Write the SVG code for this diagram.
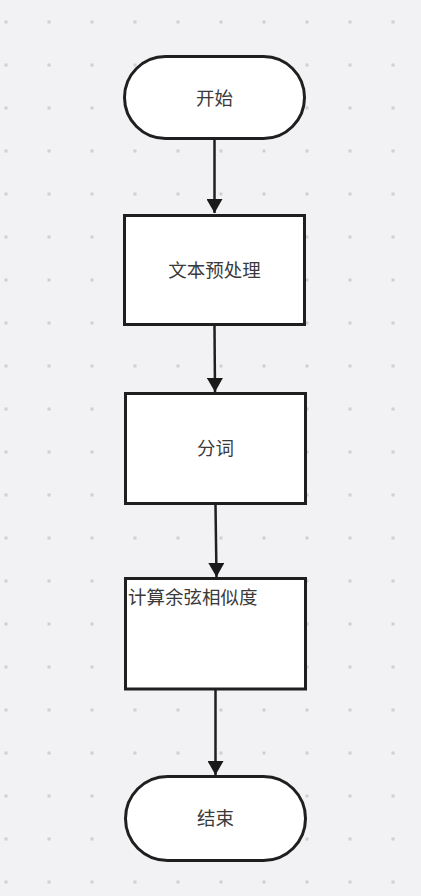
<svg xmlns="http://www.w3.org/2000/svg" width="421" height="896" viewBox="0 0 421 896">
  <defs>
    <pattern id="dots" patternUnits="userSpaceOnUse" x="0" y="0" width="43" height="43">
      <rect x="4.5" y="20.5" width="3" height="3" fill="#cfcfd1"/>
    </pattern>
    <marker id="arrow" markerUnits="userSpaceOnUse" markerWidth="14" markerHeight="16" refX="14" refY="8" viewBox="0 0 14 16" orient="auto">
      <path d="M0,0 L14,8 L0,16 Z" fill="#1a1a1a"/>
    </marker>
    <style>
      .node { fill: #ffffff; stroke: #1f1f1f; stroke-width: 3; }
      .label { font-family: "Noto Sans CJK SC", "Noto Sans", sans-serif; font-size: 18.5px; fill: #3a3a3a; }
      .edge { fill: none; stroke: #1f1f1f; stroke-width: 2.5; }
    </style>
  </defs>
  <rect x="0" y="0" width="421" height="896" fill="#f2f2f4"/>
  <rect x="0" y="0" width="421" height="896" fill="url(#dots)"/>

  <g id="connectors">
    <line class="edge" x1="214.5" y1="139" x2="214.5" y2="213" marker-end="url(#arrow)"/>
    <line class="edge" x1="214.5" y1="326" x2="215" y2="392" marker-end="url(#arrow)"/>
    <line class="edge" x1="215.5" y1="505" x2="216.5" y2="577" marker-end="url(#arrow)"/>
    <line class="edge" x1="215.5" y1="690" x2="215.5" y2="775" marker-end="url(#arrow)"/>
  </g>

  <g id="start">
    <rect class="node" x="124.5" y="56.5" width="180" height="82" rx="41" ry="41"/>
    <text class="label" x="214.5" y="104.5" text-anchor="middle">开始</text>
  </g>
  <g id="preprocess">
    <rect class="node" x="124.5" y="215.5" width="180" height="109"/>
    <text class="label" x="214.5" y="276.5" text-anchor="middle">文本预处理</text>
  </g>
  <g id="segment">
    <rect class="node" x="125.5" y="393.5" width="180" height="110"/>
    <text class="label" x="215.5" y="454.5" text-anchor="middle">分词</text>
  </g>
  <g id="cosine">
    <rect class="node" x="125.5" y="578.5" width="180" height="110.5"/>
    <text class="label" x="128" y="603.5">计算余弦相似度</text>
  </g>
  <g id="end">
    <rect class="node" x="125.5" y="776.5" width="180" height="84" rx="42" ry="42"/>
    <text class="label" x="215.5" y="824.5" text-anchor="middle">结束</text>
  </g>
</svg>
